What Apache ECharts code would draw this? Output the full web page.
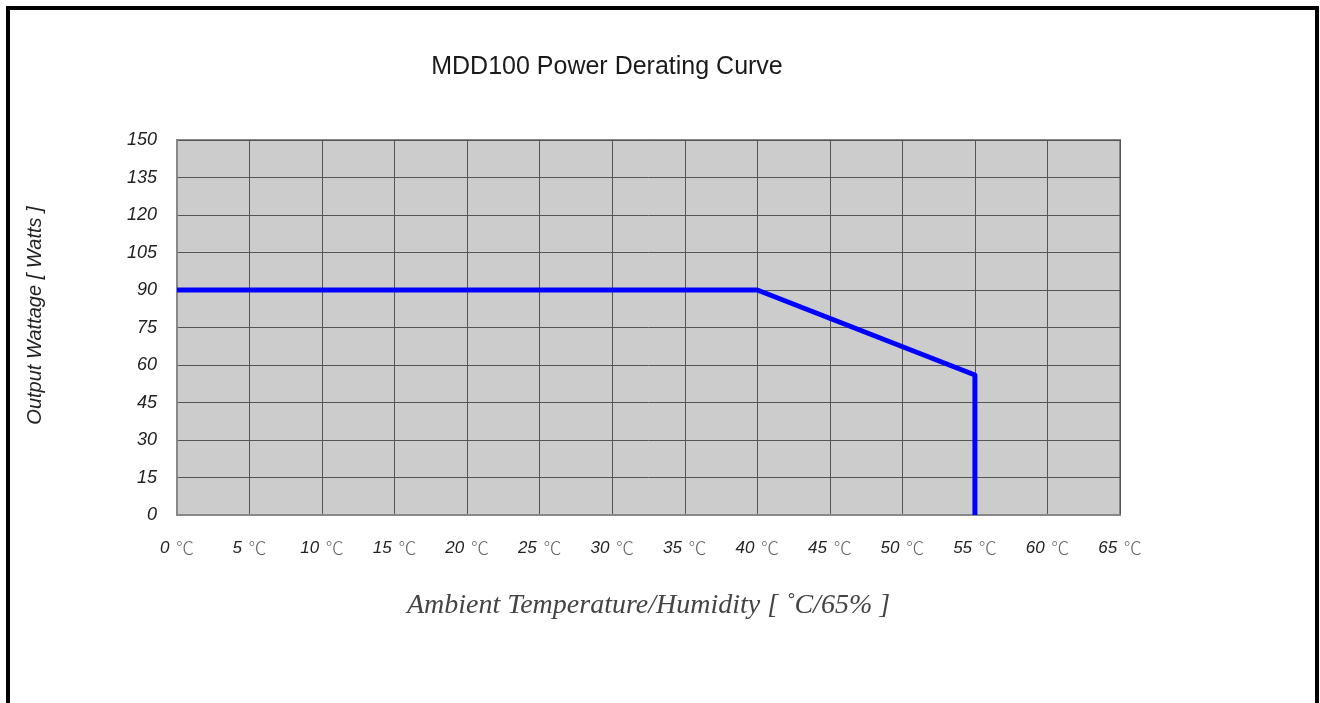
<!DOCTYPE html>
<html>
<head>
<meta charset="utf-8">
<script src="https://cdn.jsdelivr.net/npm/echarts@6/dist/echarts.min.js"></script>
<style>
html,body{margin:0;padding:0;background:#fff;}
#main{width:1320px;height:703px;}
</style>
</head>
<body>
<div id="main"></div>
<script>
// derating curve points (temperature, watts)
var temps = [0, 40, 55, 55];
var watts = [90, 90, 56, 0];
var xTicks = [0, 5, 10, 15, 20, 25, 30, 35, 40, 45, 50, 55, 60, 65];
var yTicks = [0, 15, 30, 45, 60, 75, 90, 105, 120, 135, 150];

var pts = [];
for (var i = 0; i < temps.length; i++) {
    pts.push([temps[i], watts[i]]);
}

var myChart = echarts.init(document.getElementById('main'));
myChart.setOption({
    animation: false,
    backgroundColor: '#fff',
    title: {
        text: 'MDD100 Power Derating Curve',
        left: 602,
        top: 50,
        textAlign: 'center',
        textStyle: {
            fontFamily: 'Liberation Sans, Arial',
            fontSize: 25,
            fontWeight: 'normal',
            color: '#1a1a1a'
        }
    },
    graphic: [{
        type: 'rect',
        shape: {x: 8, y: 8, width: 1309, height: 710},
        style: {fill: 'none', stroke: '#000', lineWidth: 4},
        silent: true
    }],
    grid: {
        left: 177,
        top: 140,
        width: 943,
        height: 375,
        show: true,
        backgroundColor: '#cccccc',
        borderColor: '#888',
        borderWidth: 2
    },
    xAxis: {
        type: 'value',
        min: xTicks[0],
        max: xTicks[xTicks.length - 1],
        interval: 5,
        name: 'Ambient Temperature/Humidity [ ˚C/65% ]',
        nameLocation: 'middle',
        nameGap: 77,
        nameTextStyle: {
            fontFamily: 'Liberation Serif, Times New Roman',
            fontStyle: 'italic',
            fontSize: 28,
            color: '#444'
        },
        axisLine: {show: true, lineStyle: {color: '#888', width: 2}},
        axisTick: {show: false},
        splitLine: {show: true, lineStyle: {color: '#555', width: 1}},
        axisLabel: {
            margin: 24,
            formatter: function (v) { return '{n|' + v + '}  {c|℃}'; },
            rich: {
                n: {fontFamily: 'Liberation Sans, Arial', fontStyle: 'italic', fontSize: 17, color: '#222'},
                c: {fontFamily: 'Noto Sans CJK SC', fontWeight: 300, fontSize: 18, color: '#666'}
            }
        }
    },
    yAxis: {
        type: 'value',
        min: yTicks[0],
        max: yTicks[yTicks.length - 1],
        interval: 15,
        name: 'Output Wattage [ Watts ]',
        nameLocation: 'middle',
        nameGap: 132,
        nameTextStyle: {
            fontFamily: 'Liberation Sans, Arial',
            fontStyle: 'italic',
            fontSize: 20,
            color: '#222',
            padding: [0, 0, 0, 24]
        },
        axisLine: {show: true, lineStyle: {color: '#888', width: 2}},
        axisTick: {show: false},
        splitLine: {show: true, lineStyle: {color: '#555', width: 1}},
        axisLabel: {
            margin: 20,
            fontFamily: 'Liberation Sans, Arial',
            fontStyle: 'italic',
            fontSize: 18,
            color: '#222'
        }
    },
    series: [{
        type: 'line',
        data: pts,
        symbol: 'none',
        color: '#0000ff',
        lineStyle: {color: '#0000ff', width: 5, join: 'round'}
    }]
});
</script>
</body>
</html>
